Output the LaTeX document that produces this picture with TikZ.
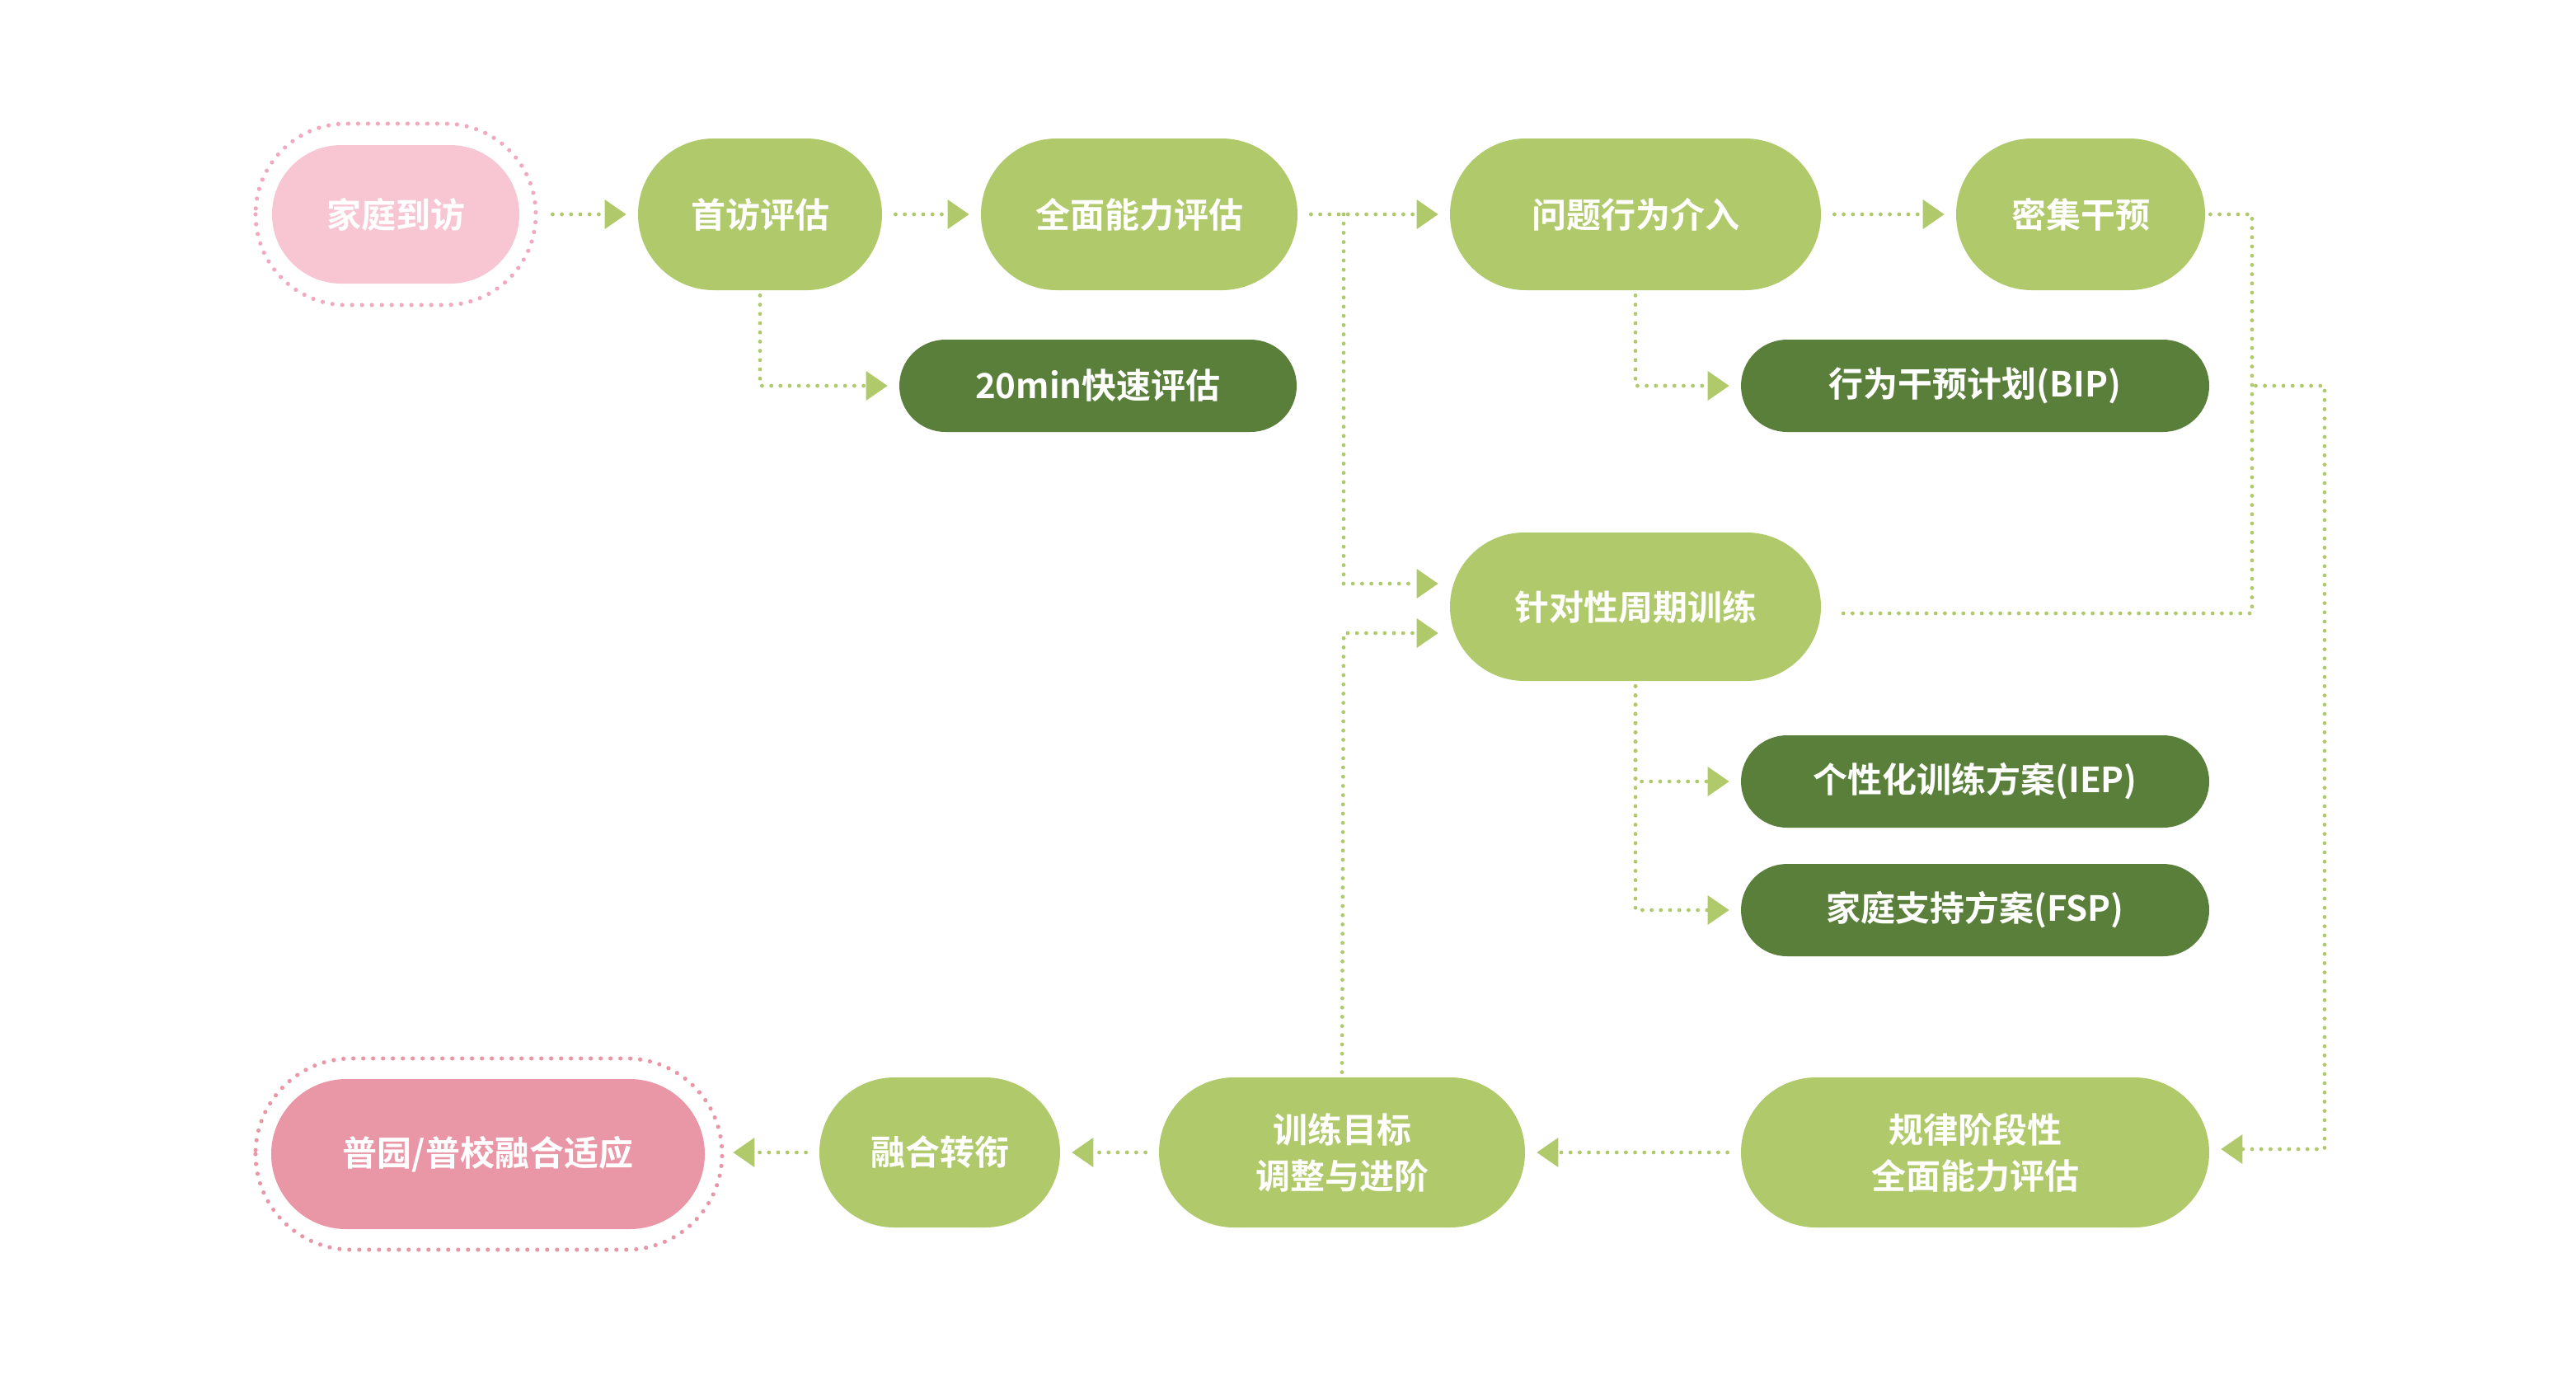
\documentclass[tikz,border=0pt]{standalone}
\usepackage{fontspec}
\setmainfont{Noto Sans CJK SC}[BoldFont={Noto Sans CJK SC Bold}]
\usetikzlibrary{arrows.meta}
\definecolor{lg}{HTML}{B0C96A}
\definecolor{dg}{HTML}{5A7F3A}
\definecolor{pk}{HTML}{F7C6D2}
\definecolor{pk2}{HTML}{E996A6}
\definecolor{pko}{HTML}{F2A9BD}
\begin{document}
\begin{tikzpicture}[x=1pt,y=-1pt,
  box/.style={draw=none,text=white,font=\bfseries\fontsize{21}{26}\selectfont,align=center,inner sep=0pt},
  L/.style args={#1x#2}{box,fill=lg,minimum width=#1pt,minimum height=#2pt,rounded corners=#2/2*1pt},
  D/.style args={#1x#2}{box,fill=dg,minimum width=#1pt,minimum height=#2pt,rounded corners=#2/2*1pt},
  dots/.style={draw=lg,line width=2.4pt,line cap=round,dash pattern=on 0pt off 5.6pt},
  conn/.style={dots,-{Triangle[width=18pt,length=13pt,line width=0pt,fill=lg]},shorten >=7pt},
  ring/.style={line width=2.6pt,line cap=round,dash pattern=on 0pt off 6pt}]
\useasboundingbox (0,0) rectangle (1562.5,833.5);
% nodes
\node[box,fill=pk,minimum width=150pt,minimum height=84pt,rounded corners=42pt] (jt) at (240,130) {家庭到访};
\draw[ring,draw=pko,rounded corners=55pt] (155,75) rectangle (325,185);
\node[L=148x92] (sf) at (461,130) {首访评估};
\node[L=192x92] (qm) at (691,130) {全面能力评估};
\node[L=225x92] (wt) at (992,130) {问题行为介入};
\node[L=151x92] (mj) at (1262,130) {密集干预};
\node[D=241x56] (ks) at (666,234) {20min快速评估};
\node[D=284x56] (bip) at (1198,234) {行为干预计划(BIP)};
\node[L=225x90] (zd) at (992,368) {针对性周期训练};
\node[D=284x56] (iep) at (1198,474) {个性化训练方案(IEP)};
\node[D=284x56] (fsp) at (1198,552) {家庭支持方案(FSP)};
\node[L=284x91] (gl) at (1198,699) {规律阶段性\\[2pt]全面能力评估};
\node[L=222x91] (xl) at (814,699) {训练目标\\[2pt]调整与进阶};
\node[L=146x91] (rh) at (570,699) {融合转衔};
\node[box,fill=pk2,minimum width=263pt,minimum height=91pt,rounded corners=45.5pt] (py) at (296,700) {普园/普校融合适应};
\draw[ring,draw=pk2,rounded corners=58pt] (155,642) rectangle (438,758);
% coordinates
\coordinate (b1) at (815,130);
\coordinate (b2) at (815,354);
\coordinate (b3) at (815,384);
\coordinate (c1) at (1366,130);
\coordinate (c2) at (1366,372);
\coordinate (d1) at (1410,234);
\coordinate (d2) at (1410,697);
% connectors
\draw[conn,shorten <=20pt] (jt.east) -- (sf.west);
\draw[conn,shorten <=8pt] (sf.east) -- (qm.west);
\draw[conn,shorten <=3pt] (sf.south) |- (ks.west);
\draw[conn,shorten <=8pt] (qm.east) -- (wt.west);
\draw[conn] (b1) -- (b2) -- ([yshift=14pt]zd.west);
\draw[conn,shorten <=3pt] (xl.north) -- (b3) -- ([yshift=-16pt]zd.west);
\draw[conn,shorten <=8pt] (wt.east) -- (mj.west);
\draw[conn,shorten <=3pt] (wt.south) |- (bip.west);
\draw[dots,shorten <=3pt,shorten >=8pt] (mj.east) -- (c1) -- (c2) -- (zd.east |- c2);
\draw[conn,shorten <=28pt] (bip.east) -- (d1) -- (d2) -- (gl.east |- d2);
\draw[conn,shorten <=3pt] (zd.south) |- (iep.west);
\draw[conn,shorten <=3pt] (zd.south) |- (fsp.west);
\draw[conn,shorten <=8pt] (gl.west) -- (xl.east);
\draw[conn,shorten <=8pt] (xl.west) -- (rh.west -| rh.east);
\draw[conn,shorten <=8pt,shorten >=17pt] (rh.west) -- (py.east |- rh.west);
\end{tikzpicture}
\end{document}
